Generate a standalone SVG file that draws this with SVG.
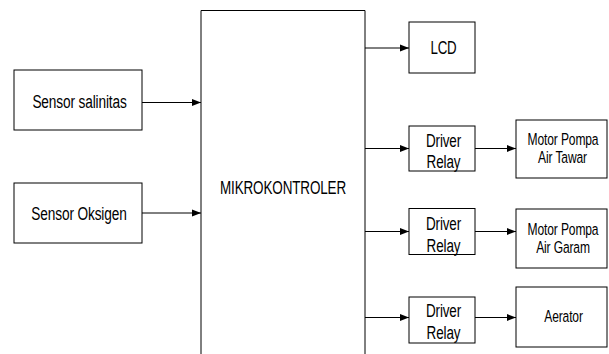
<svg xmlns="http://www.w3.org/2000/svg" width="609" height="354" viewBox="0 0 609 354">
<style>
  .box { fill: #fff; stroke: #000; stroke-width: 1; }
  .t { font-family: "Liberation Sans", Arial, sans-serif; font-size: 19px; fill: #000; text-anchor: middle; letter-spacing: -0.2px; }
  .s { font-size: 17px; }
  .c { stroke: #000; stroke-width: 1; fill: none; marker-end: url(#ah); }
</style>
<defs>
  <marker id="ah" markerUnits="userSpaceOnUse" markerWidth="10" markerHeight="8" refX="9" refY="4" orient="auto">
    <path d="M0,0.5 L9,4 L0,7.5 Z" fill="#000"/>
  </marker>
</defs>
<rect width="609" height="354" fill="#fff"/>
<g id="mikrokontroler">
  <path class="box" d="M201,360 V10.5 H365 V360"/>
  <text class="t" transform="translate(283,194) scale(0.71,1)">MIKROKONTROLER</text>
</g>
<g id="sensor-salinitas">
  <rect class="box" x="14" y="70" width="128" height="60"/>
  <text class="t" transform="translate(79.5,108) scale(0.72,1)">Sensor salinitas</text>
</g>
<g id="sensor-oksigen">
  <rect class="box" x="14" y="183" width="128" height="60"/>
  <text class="t" transform="translate(79,220) scale(0.72,1)">Sensor Oksigen</text>
</g>
<g id="lcd">
  <rect class="box" x="409" y="22" width="66" height="51"/>
  <text class="t" transform="translate(443.5,54) scale(0.7,1)">LCD</text>
</g>
<g id="driver-relay-1">
  <rect class="box" x="409" y="126" width="66" height="45"/>
  <text class="t" transform="translate(443.5,146.5) scale(0.71,1)">Driver</text>
  <text class="t" transform="translate(443.5,168) scale(0.71,1)">Relay</text>
</g>
<g id="driver-relay-2">
  <rect class="box" x="409" y="208.5" width="66" height="46"/>
  <text class="t" transform="translate(443.5,229.5) scale(0.71,1)">Driver</text>
  <text class="t" transform="translate(443.5,251.5) scale(0.71,1)">Relay</text>
</g>
<g id="driver-relay-3">
  <rect class="box" x="409" y="297" width="66" height="46"/>
  <text class="t" transform="translate(443.5,316.5) scale(0.71,1)">Driver</text>
  <text class="t" transform="translate(443.5,338.5) scale(0.71,1)">Relay</text>
</g>
<g id="motor-pompa-air-tawar">
  <rect class="box" x="516" y="120" width="91" height="58"/>
  <text class="t s" transform="translate(563,145) scale(0.71,1)">Motor Pompa</text>
  <text class="t s" transform="translate(562.5,163) scale(0.71,1)">Air Tawar</text>
</g>
<g id="motor-pompa-air-garam">
  <rect class="box" x="516" y="209" width="91" height="59"/>
  <text class="t s" transform="translate(563,235) scale(0.71,1)">Motor Pompa</text>
  <text class="t s" transform="translate(563,253) scale(0.71,1)">Air Garam</text>
</g>
<g id="aerator">
  <rect class="box" x="516" y="287" width="91" height="60"/>
  <text class="t s" transform="translate(563.5,322) scale(0.71,1)">Aerator</text>
</g>
<g id="connectors">
  <line class="c" x1="142" y1="102.5" x2="201" y2="102.5"/>
  <line class="c" x1="142" y1="213" x2="201" y2="213"/>
  <line class="c" x1="365" y1="48" x2="409" y2="48"/>
  <line class="c" x1="365" y1="148.5" x2="409" y2="148.5"/>
  <line class="c" x1="365" y1="231.5" x2="409" y2="231.5"/>
  <line class="c" x1="365" y1="317.5" x2="409" y2="317.5"/>
  <line class="c" x1="475" y1="148.5" x2="516" y2="148.5"/>
  <line class="c" x1="475" y1="231.5" x2="516" y2="231.5"/>
  <line class="c" x1="475" y1="317.5" x2="516" y2="317.5"/>
</g>
</svg>
